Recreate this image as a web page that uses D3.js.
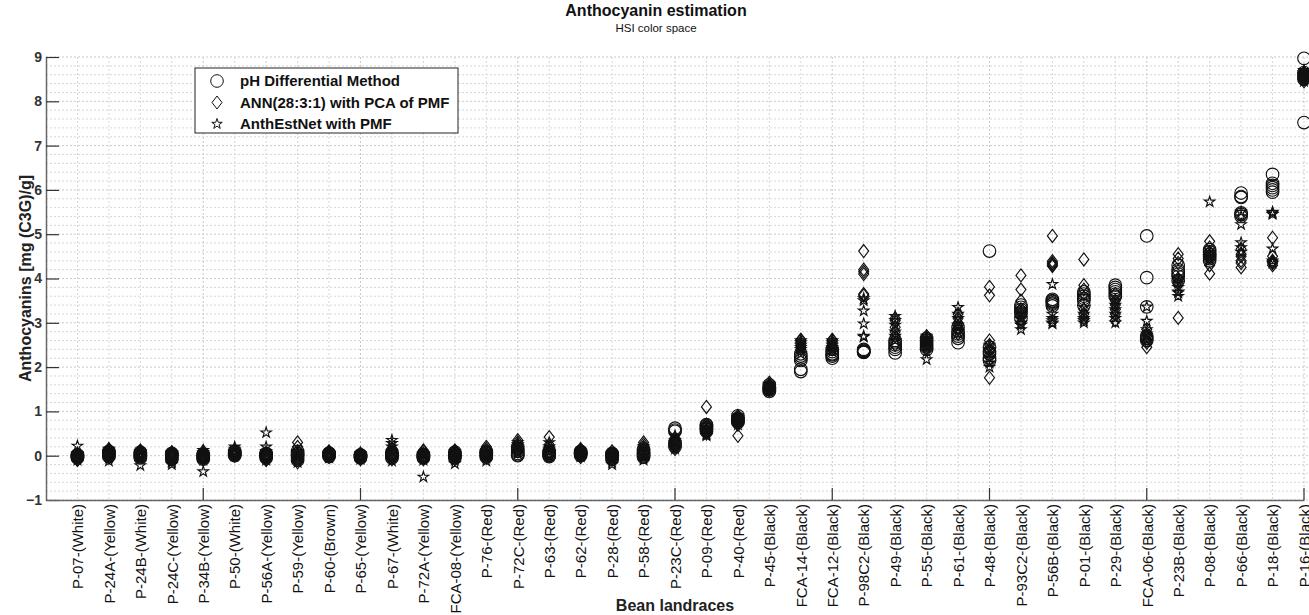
<!DOCTYPE html>
<html>
<head>
<meta charset="utf-8">
<script src="https://cdn.jsdelivr.net/npm/d3@7"></script>
<style>
  html, body { margin: 0; padding: 0; background: #fff; }
  svg { display: block; font-family: "Liberation Sans", Arial, Helvetica, sans-serif; }
</style>
</head>
<body>
<svg id="chart" width="1309" height="615"></svg>
<script>
const categories = [
  "P-07-(White)", "P-24A-(Yellow)", "P-24B-(White)", "P-24C-(Yellow)", "P-34B-(Yellow)",
  "P-50-(White)", "P-56A-(Yellow)", "P-59-(Yellow)", "P-60-(Brown)", "P-65-(Yellow)",
  "P-67-(White)", "P-72A-(Yellow)", "FCA-08-(Yellow)", "P-76-(Red)", "P-72C-(Red)",
  "P-63-(Red)", "P-62-(Red)", "P-28-(Red)", "P-58-(Red)", "P-23C-(Red)",
  "P-09-(Red)", "P-40-(Red)", "P-45-(Black)", "FCA-14-(Black)", "FCA-12-(Black)",
  "P-98C2-(Black)", "P-49-(Black)", "P-55-(Black)", "P-61-(Black)", "P-48-(Black)",
  "P-93C2-(Black)", "P-56B-(Black)", "P-01-(Black)", "P-29-(Black)", "FCA-06-(Black)",
  "P-23B-(Black)", "P-08-(Black)", "P-66-(Black)", "P-18-(Black)", "P-16-(Black)"
];

const seriesNames = ["pH Differential Method", "ANN(28:3:1) with PCA of PMF", "AnthEstNet with PMF"];

// pH Differential Method (circles), samples per landrace
const phValues = [
  [0, -0.03, 0.02, -0.05, 0.01, -0.02], [0, 0.05, -0.02, 0.08, 0.03, 0.1], [0, -0.05, 0.05, 0.02, 0.08, -0.02],
  [0, -0.05, 0.03, 0.02, -0.08, 0.05], [0, -0.03, 0.02, -0.05, -0.08, 0.03], [0, 0.05, 0.02, 0.08, 0.1, 0.03],
  [0, 0.02, -0.02, 0.05, 0.03, -0.05], [0, -0.1, 0.05, 0.1, -0.05, 0.02], [0, 0.02, 0.05, -0.02, 0.03, 0.06],
  [0, -0.02, 0.02, -0.05, 0.01, -0.03], [0, 0.05, -0.05, 0.02, 0.08, -0.02], [0, -0.03, 0.02, -0.05, 0.03, -0.02],
  [0, 0.05, -0.02, 0.02, 0.08, -0.05], [0, 0.05, 0.1, 0.02, -0.03, 0.08], [0, 0.05, 0.15, 0.2, 0.02, 0.1],
  [0, 0.05, 0.1, 0.02, 0.08, -0.02], [0.05, 0.1, 0, 0.08, 0.03, 0.06], [0, 0.05, -0.05, 0.02, -0.08, 0.03],
  [0.05, 0.1, 0, 0.15, 0.03, -0.03], [0.62, 0.55, 0.3, 0.2, 0.58, 0.25], [0.65, 0.7, 0.6, 0.55, 0.68, 0.62],
  [0.8, 0.85, 0.75, 0.9, 0.82, 0.78], [1.5, 1.55, 1.45, 1.6, 1.52, 1.48], [1.95, 2.2, 1.9, 2.25, 2.3, 2.15],
  [2.2, 2.3, 2.25, 2.35, 2.4, 2.28], [2.35, 2.33, 2.38, 2.4, 2.36, 2.34], [2.32, 2.4, 2.5, 2.6, 2.45, 2.55],
  [2.4, 2.5, 2.6, 2.65, 2.55, 2.45], [2.55, 2.7, 2.8, 2.9, 2.65, 2.75], [4.62, 2.3, 2.15, 2.45, 2.35, 2.2],
  [3.3, 3.2, 3.4, 3.1, 3.25, 3.35], [3.53, 3.38, 3.45, 3.5, 3.42, 3.48], [3.6, 3.7, 3.5, 3.4, 3.65, 3.55],
  [3.85, 3.75, 3.7, 3.6, 3.8, 3.65], [4.96, 4.02, 3.36, 2.65, 2.7, 2.6], [4.3, 4.2, 4.05, 3.95, 4.15, 4.1],
  [4.5, 4.6, 4.4, 4.55, 4.65, 4.45], [5.93, 5.83, 5.48, 5.4, 5.85, 5.45], [6.35, 6.15, 6.05, 5.95, 6.1, 6.0],
  [8.97, 7.52, 8.6, 8.55, 8.5, 8.65]
];

// ANN(28:3:1) with PCA of PMF (diamonds)
const annValues = [
  [-0.1, 0, 0.05, -0.05, -0.08, 0.02], [0.15, 0.05, -0.05, 0.1, 0.12, 0], [0.1, 0, 0.05, -0.02, 0.12, 0.08],
  [0.05, -0.05, 0, 0.08, -0.1, 0.02], [0.05, -0.08, 0, 0.02, -0.05, 0.1], [0.05, 0.1, 0, 0.02, 0.12, 0.06],
  [-0.05, 0, 0.05, -0.08, 0.02, -0.1], [0.3, 0.2, -0.05, -0.1, 0.1, -0.15], [0.05, 0, 0.08, -0.03, 0.1, 0.03],
  [0, 0.03, -0.05, 0.02, -0.08, 0.05], [0.1, 0, -0.08, 0.05, 0.15, -0.05], [0.1, 0, -0.05, 0.05, 0.12, -0.08],
  [0.1, -0.05, 0.05, 0, 0.12, -0.08], [0.2, 0.1, 0, 0.05, 0.15, -0.05], [0.35, 0.25, 0.2, 0.1, 0.3, 0.15],
  [0.42, 0.25, 0.1, 0, 0.2, 0.05], [0.1, 0.15, 0, 0.05, 0.12, -0.03], [0.05, 0, -0.08, 0.1, -0.03, 0.03],
  [0.3, 0.2, 0.1, 0.05, 0.25, 0.15], [0.4, 0.3, 0.2, 0.15, 0.35, 0.25], [1.1, 0.7, 0.6, 0.5, 0.65, 0.55],
  [0.45, 0.9, 0.8, 0.7, 0.85, 0.75], [1.65, 1.55, 1.5, 1.6, 1.58, 1.52], [2.6, 2.5, 2.55, 2.45, 2.62, 2.4],
  [2.6, 2.55, 2.5, 2.45, 2.62, 2.4], [4.62, 4.2, 4.1, 3.62, 4.15, 3.65], [3.1, 2.9, 2.7, 2.5, 3.05, 2.8],
  [2.6, 2.7, 2.5, 2.45, 2.65, 2.55], [3.2, 3.0, 2.9, 2.75, 3.1, 2.85], [3.81, 3.62, 1.76, 2.6, 2.5, 2.4],
  [4.07, 3.75, 3.5, 3.0, 3.3, 3.2], [4.96, 4.39, 4.3, 4.35, 4.33, 4.28], [4.43, 3.85, 3.3, 3.1, 3.75, 3.2],
  [3.05, 3.2, 3.4, 3.65, 3.5, 3.3], [2.7, 2.55, 2.45, 2.85, 2.6, 2.75], [4.55, 4.45, 3.11, 3.9, 4.35, 4.0],
  [4.84, 4.7, 4.11, 4.3, 4.6, 4.5], [4.66, 4.5, 4.25, 4.4, 4.35, 4.55], [4.92, 4.37, 4.3, 4.5, 4.35, 4.4],
  [8.65, 8.5, 8.55, 8.45, 8.6, 8.5]
];

// AnthEstNet with PMF (stars)
const anthValues = [
  [0.22, 0, -0.05, 0.05, -0.1, 0.02], [-0.12, 0, 0.1, 0.05, -0.05, 0.15], [-0.22, 0.08, 0, 0.02, -0.05, 0.1],
  [-0.2, -0.12, 0.05, 0, -0.15, 0.08], [-0.36, 0.08, -0.1, 0, 0.12, -0.05], [0.2, 0.1, 0, 0.05, 0.15, 0.08],
  [0.52, 0.2, 0, -0.1, 0.1, -0.05], [-0.15, 0, -0.05, 0.1, -0.1, 0.05], [0, 0.05, -0.05, 0.02, 0.08, -0.02],
  [-0.05, 0, 0.03, -0.02, -0.08, 0.05], [0.35, 0.2, -0.12, 0.1, 0.28, -0.05], [-0.48, -0.1, 0, 0.02, -0.05, 0.05],
  [-0.18, -0.1, 0.05, 0, 0.1, -0.05], [-0.12, 0, 0.05, 0.1, -0.05, 0.02], [0.3, 0.2, 0.05, 0.1, 0.25, 0.15],
  [0.2, 0.3, 0.05, 0.1, 0, 0.15], [0, 0.05, 0.1, -0.02, 0.08, 0.03], [-0.2, -0.1, 0, 0.05, -0.15, -0.05],
  [-0.1, 0, 0.1, 0.2, -0.05, 0.05], [0.3, 0.2, 0.45, 0.25, 0.15, 0.35], [0.45, 0.55, 0.6, 0.5, 0.62, 0.48],
  [0.75, 0.85, 0.7, 0.8, 0.9, 0.78], [1.5, 1.6, 1.45, 1.55, 1.62, 1.5], [2.5, 2.4, 2.3, 2.6, 2.55, 2.45],
  [2.5, 2.4, 2.35, 2.6, 2.55, 2.45], [3.55, 3.27, 2.98, 2.68, 3.5, 2.7], [3.15, 2.95, 2.8, 2.6, 3.05, 2.7],
  [2.17, 2.35, 2.55, 2.7, 2.45, 2.62], [3.35, 3.1, 2.95, 2.8, 3.2, 2.9], [2.0, 2.3, 2.5, 2.2, 2.4, 2.1],
  [2.85, 3.0, 3.3, 3.1, 3.2, 2.95], [3.87, 3.0, 3.05, 3.2, 3.1, 2.98], [3.0, 3.1, 3.35, 3.6, 3.05, 3.2],
  [3.5, 3.3, 3.1, 3.0, 3.4, 3.2], [3.36, 3.04, 2.85, 2.6, 2.75, 2.7], [3.68, 3.6, 3.8, 4.0, 3.7, 3.9],
  [5.73, 4.6, 4.5, 4.45, 4.55, 4.4], [5.22, 4.81, 4.6, 5.5, 4.7, 5.4], [5.5, 4.67, 4.35, 5.45, 5.48, 4.4],
  [8.7, 8.6, 8.5, 8.55, 8.65, 8.45]
];

const yTickValues = [-1, 0, 1, 2, 3, 4, 5, 6, 7, 8, 9];

const svg = d3.select("#chart");
const plot = { left: 46, right: 1304, top: 57, bottom: 500 };

const x = d3.scaleLinear().domain([0, categories.length]).range([plot.left, plot.right]);
const y = d3.scaleLinear().domain([-1, 9]).range([plot.bottom, plot.top]);

// grid
const grid = svg.append("g");
const minorY = d3.range(-1, 9.001, 0.2).map(v => +v.toFixed(1));
grid.selectAll("line.hy").data(minorY).enter().append("line")
  .attr("x1", plot.left).attr("x2", 1309)
  .attr("y1", d => y(d)).attr("y2", d => y(d))
  .attr("stroke", d => Math.abs(d - Math.round(d)) < 1e-6 ? "#c8c8c8" : "#d6d6d6")
  .attr("stroke-width", 1)
  .attr("stroke-dasharray", "2,2");
grid.selectAll("line.vx").data(d3.range(1, categories.length + 1)).enter().append("line")
  .attr("x1", d => x(d)).attr("x2", d => x(d))
  .attr("y1", plot.top).attr("y2", plot.bottom)
  .attr("stroke", d => d % 5 === 0 ? "#c8c8c8" : "#d6d6d6")
  .attr("stroke-width", 1)
  .attr("stroke-dasharray", "2,2");

// marker shapes
const diamondPath = "M0,-6.5L5,0L0,6.5L-5,0Z";
const starPath = d3.symbol(d3.symbolStar, 34)();

const pts = (vals) => vals.flatMap((arr, i) => arr.map(v => ({ c: i + 1, v })));

const marks = svg.append("g").attr("fill", "none").attr("stroke", "#111").attr("stroke-width", 1.15);
marks.selectAll("circle.ph").data(pts(phValues)).enter().append("circle")
  .attr("cx", d => x(d.c)).attr("cy", d => y(d.v)).attr("r", 6.3);
marks.selectAll("path.ann").data(pts(annValues)).enter().append("path")
  .attr("d", diamondPath)
  .attr("transform", d => `translate(${x(d.c)},${y(d.v)})`);
marks.selectAll("path.anth").data(pts(anthValues)).enter().append("path")
  .attr("d", starPath)
  .attr("transform", d => `translate(${x(d.c)},${y(d.v)})`);

// y axis
const yAxis = d3.axisLeft(y).tickValues(yTickValues).tickSizeInner(-13).tickSizeOuter(0).tickPadding(4);
const gy = svg.append("g").attr("transform", `translate(${plot.left},0)`).call(yAxis);
gy.select(".domain").attr("stroke", "#666").attr("stroke-width", 1.5);
gy.selectAll(".tick line").attr("stroke", "#333").attr("stroke-width", 1.2);
gy.selectAll(".tick text").attr("x", -4).attr("font-size", 14).attr("font-weight", "bold").attr("fill", "#333")
  .style("font-family", '"Liberation Sans", Arial, sans-serif');

// x axis
const xAxis = d3.axisBottom(x)
  .tickValues(d3.range(1, categories.length + 1))
  .tickFormat(d => categories[d - 1])
  .tickSize(0).tickPadding(0);
const gx = svg.append("g").attr("transform", `translate(0,${plot.bottom})`).call(xAxis);
gx.select(".domain").attr("stroke", "#666").attr("stroke-width", 1.5);
gx.selectAll(".tick text")
  .attr("transform", "rotate(-90)")
  .attr("x", -4).attr("y", 0).attr("dy", "0.35em")
  .attr("text-anchor", "end")
  .attr("font-size", 15).attr("fill", "#111")
  .style("font-family", '"Liberation Sans", Arial, sans-serif');
// major x ticks (inward) every 5
const gxt = svg.append("g");
gxt.selectAll("line").data(d3.range(5, categories.length + 1, 5)).enter().append("line")
  .attr("x1", d => x(d)).attr("x2", d => x(d))
  .attr("y1", plot.bottom).attr("y2", plot.bottom - 12)
  .attr("stroke", "#333").attr("stroke-width", 1.2);

// labels
svg.append("text").attr("x", 656).attr("y", 16).attr("text-anchor", "middle")
  .attr("font-size", 16).attr("font-weight", "bold").attr("fill", "#111").text("Anthocyanin estimation");
svg.append("text").attr("x", 656).attr("y", 32).attr("text-anchor", "middle")
  .attr("font-size", 11.5).attr("fill", "#111").text("HSI color space");
svg.append("text").attr("transform", `translate(25,${(plot.top + plot.bottom) / 2}) rotate(-90)`)
  .attr("text-anchor", "middle").attr("dy", "0.35em")
  .attr("font-size", 16).attr("font-weight", "bold").attr("fill", "#222").text("Anthocyanins [mg (C3G)/g]");
svg.append("text").attr("x", (plot.left + plot.right) / 2).attr("y", 611).attr("text-anchor", "middle")
  .attr("font-size", 16).attr("font-weight", "bold").attr("fill", "#222").text("Bean landraces");

// legend
const lg = svg.append("g").attr("transform", "translate(195,68)");
lg.append("rect").attr("width", 263).attr("height", 65).attr("fill", "#fff").attr("stroke", "#222").attr("stroke-width", 1);
const shapes = ["circle", "diamond", "star"];
seriesNames.forEach((name, i) => {
  const cy = 13 + i * 21.5;
  if (shapes[i] === "circle") {
    lg.append("circle").attr("cx", 22).attr("cy", cy).attr("r", 6.3).attr("fill", "none").attr("stroke", "#111");
  } else if (shapes[i] === "diamond") {
    lg.append("path").attr("d", diamondPath).attr("transform", `translate(22,${cy})`).attr("fill", "none").attr("stroke", "#111");
  } else {
    lg.append("path").attr("d", starPath).attr("transform", `translate(22,${cy})`).attr("fill", "none").attr("stroke", "#111");
  }
  lg.append("text").attr("x", 45).attr("y", cy).attr("dy", "0.35em")
    .attr("font-size", 15).attr("font-weight", "bold").attr("fill", "#111").text(name);
});
</script>
</body>
</html>
